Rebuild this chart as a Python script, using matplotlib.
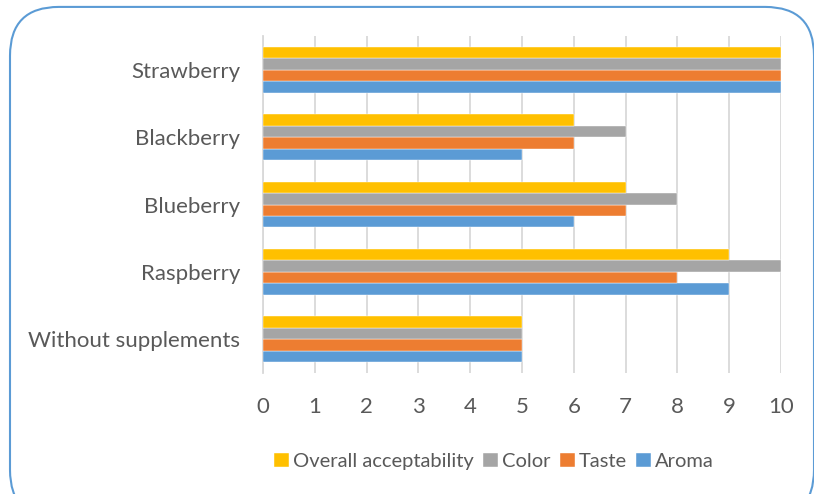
import matplotlib.pyplot as plt
import numpy as np
from matplotlib.patches import FancyBboxPatch

# sensory scores per sample
samples = ['Without supplements', 'Raspberry', 'Blueberry', 'Blackberry', 'Strawberry']
aroma = [5, 9, 6, 5, 10]
taste = [5, 8, 7, 6, 10]
color = [5, 10, 8, 7, 10]
overall = [5, 9, 7, 6, 10]

series = [('Aroma', aroma, '#5B9BD5'),
          ('Taste', taste, '#ED7D31'),
          ('Color', color, '#A5A5A5'),
          ('Overall acceptability', overall, '#FFC000')]

plt.rcParams['font.family'] = ['Lato', 'DejaVu Sans']
text_color = '#595959'

fig = plt.figure(figsize=(8.14, 4.94), dpi=100)
ax = fig.add_axes([0.3231, 0.245, 0.6364, 0.682])

y = np.arange(len(samples))
h = 0.17
for i, (name, vals, col) in enumerate(series):
    ax.barh(y + (i - 1.5) * h, vals, height=h, color=col, label=name, zorder=3,
            edgecolor='white', linewidth=0.3)

ax.set_xlim(0, 10)
ax.set_ylim(-0.5, len(samples) - 0.5)
ax.set_xticks(range(0, 11))
ax.set_yticks(y)
ax.set_yticklabels(samples)
ax.grid(axis='x', color='#D9D9D9', linewidth=1.3, zorder=0)
for s in ['top', 'right', 'bottom']:
    ax.spines[s].set_visible(False)
ax.spines['left'].set_color('#D9D9D9')
ax.spines['left'].set_linewidth(1.3)
ax.tick_params(axis='both', length=0, labelsize=16, labelcolor=text_color)
ax.tick_params(axis='x', pad=17)
ax.tick_params(axis='y', pad=16.5)

handles, labels = ax.get_legend_handles_labels()
leg = fig.legend(handles[::-1], labels[::-1], loc='center', bbox_to_anchor=(0.607, 0.066),
                 ncol=4, frameon=False, fontsize=14.5, handlelength=0.75, handleheight=0.75,
                 handletextpad=0.2, columnspacing=0.45, labelcolor=text_color)

# rounded chart border
border = FancyBboxPatch((10 / 814, -0.05), 804 / 814, 0.036 + 0.95 + 0.05,
                        boxstyle='round,pad=0,rounding_size=0.06',
                        transform=fig.transFigure, fill=False,
                        edgecolor='#5B9BD5', linewidth=1.5, mutation_aspect=814 / 494)
fig.patches.append(border)

fig.savefig('out.png', dpi=100)
